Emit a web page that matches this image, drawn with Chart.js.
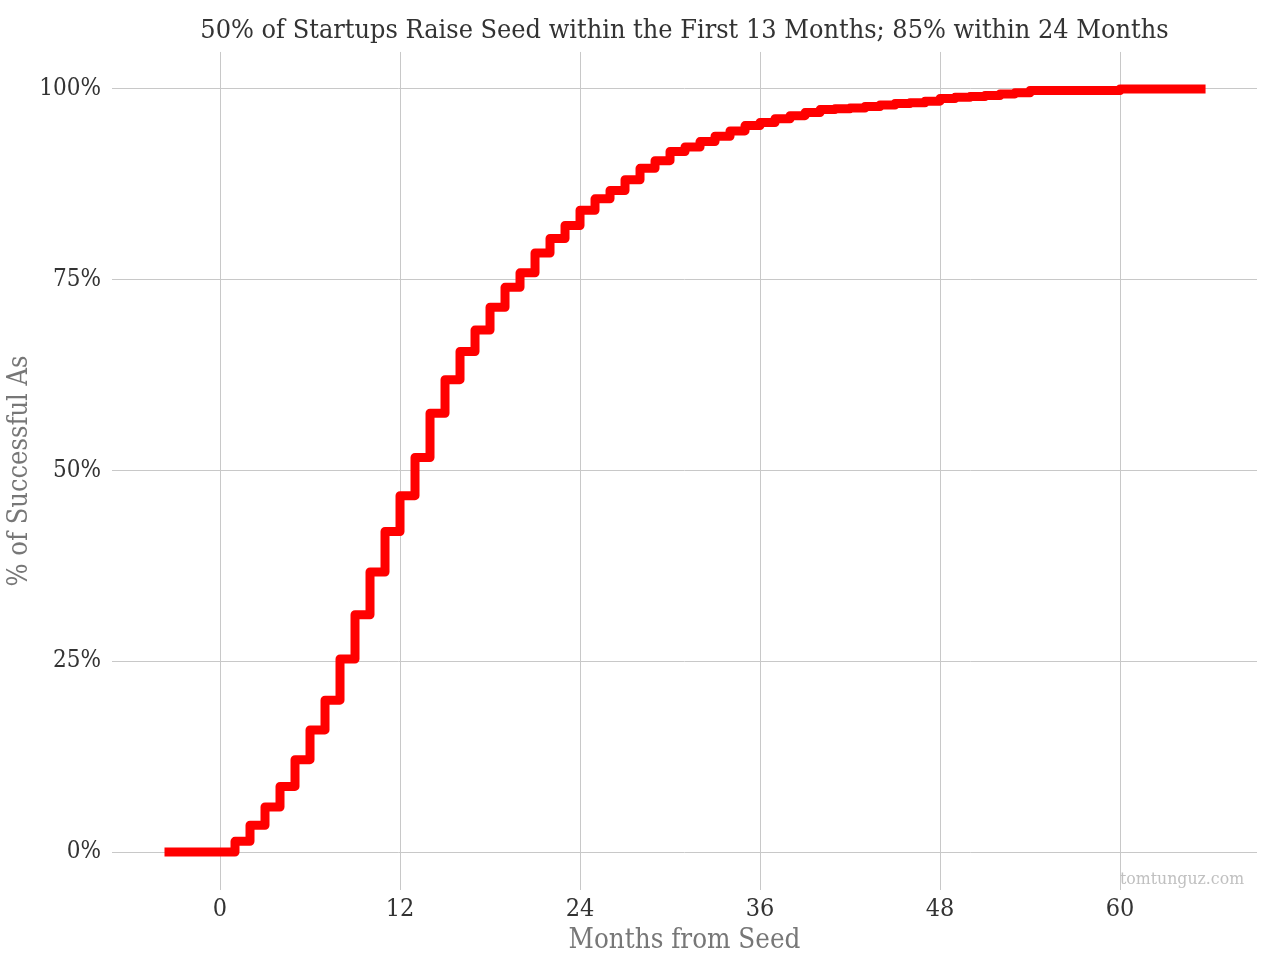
<!DOCTYPE html>
<html>
<head>
<meta charset="utf-8">
<script src="https://cdn.jsdelivr.net/npm/chart.js@4.4.1/dist/chart.umd.min.js"></script>
<style>
  html, body { margin: 0; padding: 0; background: #fff; }
  #wrap { width: 1280px; height: 960px; }
</style>
</head>
<body>
<div id="wrap"><canvas id="cdf-chart" width="1280" height="960"></canvas></div>
<script>
const FONT = "'Roboto Slab', 'DejaVu Serif Condensed', Roboto, serif";

// months since seed (first / last entries are where the drawn line begins / ends)
const months = [-3.7, 0, 1, 2, 3, 4, 5, 6, 7, 8, 9, 10, 11, 12, 13, 14, 15, 16, 17, 18, 19,
  20, 21, 22, 23, 24, 25, 26, 27, 28, 29, 30, 31, 32, 33, 34, 35, 36, 37, 38, 39,
  40, 41, 42, 43, 44, 45, 46, 47, 48, 49, 50, 51, 52, 53, 54, 55, 56, 57, 58, 59,
  60, 61, 62, 63, 64, 65, 65.7];

// cumulative % of successful As raised by that month
const pctRaised = [0, 0, 1.4, 3.5, 5.9, 8.6, 12.1, 16.0, 19.9, 25.3, 31.1, 36.7, 42.0, 46.7, 51.7, 57.5, 61.9, 65.6, 68.4, 71.4, 74.0,
  75.9, 78.5, 80.4, 82.1, 84.1, 85.6, 86.7, 88.1, 89.6, 90.6, 91.8, 92.4, 93.1, 93.8, 94.5, 95.2, 95.6, 96.1, 96.5, 96.9,
  97.3, 97.4, 97.5, 97.7, 97.9, 98.1, 98.2, 98.4, 98.75, 98.9, 99.0, 99.15, 99.35, 99.5, 99.8, 99.8, 99.8, 99.8, 99.8, 99.8,
  100, 100, 100, 100, 100, 100, 100];

const xTicks = [0, 12, 24, 36, 48, 60];
const yTicks = [0, 25, 50, 75, 100];

const points = months.map((m, i) => ({ x: m, y: pctRaised[i] }));

const watermark = {
  id: 'watermark',
  afterDraw(chart) {
    const ctx = chart.ctx;
    ctx.save();
    ctx.font = '17.5px ' + FONT;
    ctx.fillStyle = '#c0c0c0';
    ctx.textAlign = 'left';
    ctx.textBaseline = 'middle';
    ctx.fillText('tomtunguz.com', 1120, 879);
    ctx.restore();
  }
};

const canvas = document.getElementById('cdf-chart');
new Chart(canvas.getContext('2d'), {
  type: 'line',
  data: {
    datasets: [{
      data: points,
      stepped: true,
      borderColor: '#ff0000',
      borderWidth: 9,
      borderJoinStyle: 'round',
      borderCapStyle: 'butt',
      pointRadius: 0,
      fill: false,
    }],
  },
  options: {
    responsive: false,
    animation: false,
    layout: { padding: { left: 0, right: 23, top: 0, bottom: 0 } },
    plugins: {
      legend: { display: false },
      tooltip: { enabled: false },
      title: {
        display: true,
        fullSize: false,
        text: '50% of Startups Raise Seed within the First 13 Months; 85% within 24 Months',
        color: '#333',
        font: { family: FONT, size: 26.8, weight: 'normal' },
        padding: { top: 15, bottom: 4.8 },
      },
    },
    scales: {
      x: {
        type: 'linear',
        min: -7.2,
        max: 69.13,
        grid: { color: '#c8c8c8', drawTicks: false },
        border: { display: false },
        afterFit: (scale) => { scale.height = 70; },
        afterBuildTicks: (scale) => { scale.ticks = xTicks.map(v => ({ value: v })); },
        ticks: {
          color: '#333',
          padding: 4,
          maxRotation: 0,
          font: { family: FONT, size: 25 },
        },
        title: {
          display: true,
          text: 'Months from Seed',
          color: '#777',
          font: { family: FONT, size: 27.5 },
          padding: { top: 0, bottom: 3 },
        },
      },
      y: {
        min: -4.98,
        max: 104.85,
        grid: { color: '#c8c8c8', drawTicks: false },
        border: { display: false },
        afterFit: (scale) => { scale.width = 112; },
        afterBuildTicks: (scale) => { scale.ticks = yTicks.map(v => ({ value: v })); },
        ticks: {
          color: '#333',
          padding: 11,
          font: { family: FONT, size: 24 },
          callback: (v) => v + '%',
        },
        title: {
          display: true,
          text: '% of Successful As',
          color: '#777',
          font: { family: FONT, size: 27 },
          padding: { top: 4, bottom: 0 },
        },
      },
    },
  },
  plugins: [watermark],
});
</script>
</body>
</html>
